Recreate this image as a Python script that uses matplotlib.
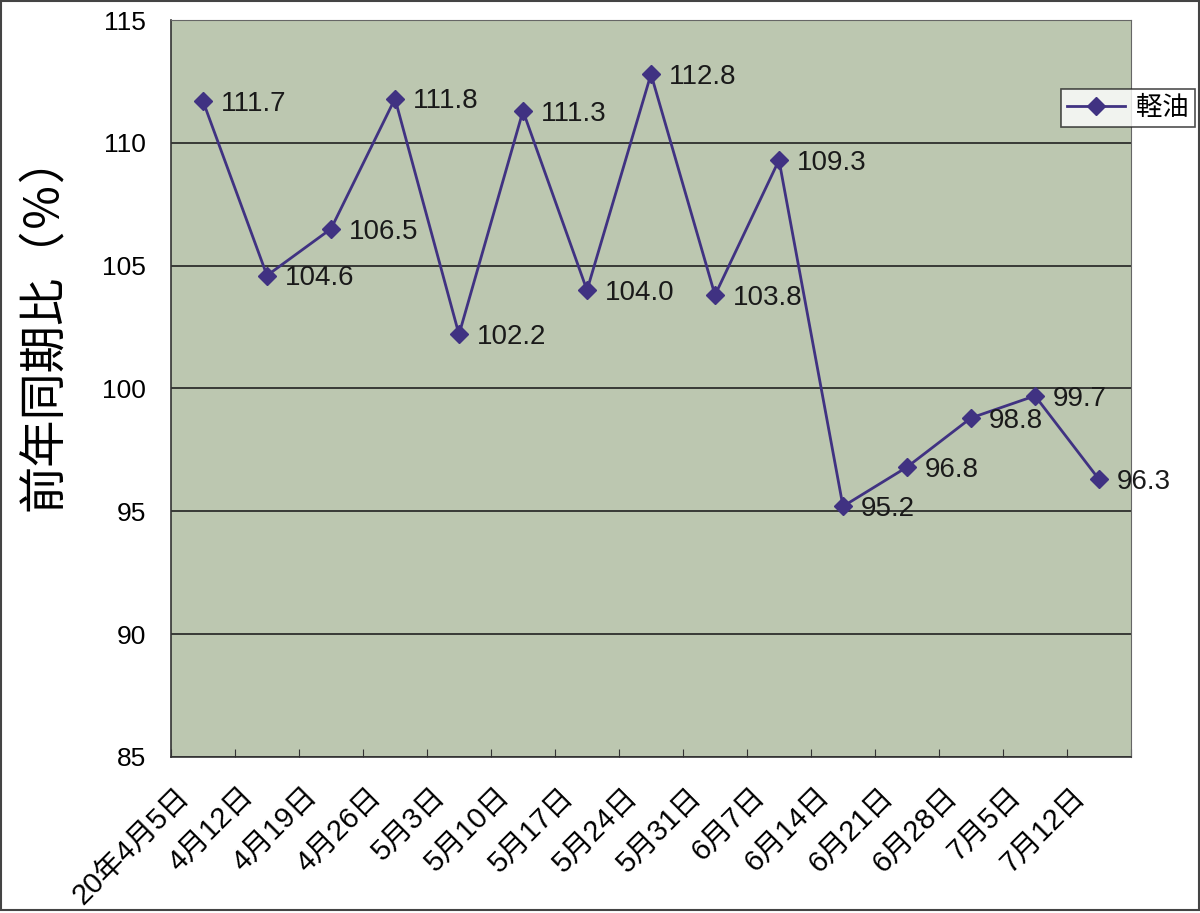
import matplotlib
matplotlib.use('Agg')
import matplotlib.pyplot as plt
import matplotlib.transforms as mtransforms
import numpy as np

plt.rcParams['font.family'] = ['Liberation Sans', 'Noto Sans CJK JP']

dates = ['20年4月5日', '4月12日', '4月19日', '4月26日', '5月3日', '5月10日', '5月17日',
         '5月24日', '5月31日', '6月7日', '6月14日', '6月21日', '6月28日', '7月5日', '7月12日']
values = [111.7, 104.6, 106.5, 111.8, 102.2, 111.3, 104.0, 112.8, 103.8, 109.3,
          95.2, 96.8, 98.8, 99.7, 96.3]
series_name = '軽油'

line_colour = '#403282'
bg_colour = '#bcc7b0'

fig = plt.figure(figsize=(12, 9.13), dpi=100)
ax = fig.add_axes([0.1425, 0.171, 0.8, 0.807])
ax.set_facecolor(bg_colour)

x = np.arange(len(values))
ax.plot(x, values, c=line_colour, linewidth=2, marker='D', markersize=9,
        markerfacecolor=line_colour, markeredgecolor=line_colour, label=series_name)

for xi, v in zip(x, values):
    ax.annotate(f'{v:.1f}', (xi, v), xytext=(13, -2), textcoords='offset points',
                va='center', ha='left', fontsize=20, color='#1a1a1a')

ax.set_xlim(-0.5, len(values) - 0.5)
ax.set_ylim(85, 115)
ax.set_yticks(np.arange(85, 116, 5))
ax.yaxis.grid(True, color='#222222', linewidth=1.2)
ax.set_axisbelow(True)
ax.tick_params(axis='y', length=0, labelsize=19, pad=18)

ax.set_xticks(np.arange(-0.5, len(values)), minor=False)
ax.set_xticklabels([])
ax.set_xticks(x, minor=True)
ax.set_xticklabels(dates, minor=True, rotation=45, ha='right', rotation_mode='anchor',
                   fontsize=21)
ax.tick_params(axis='x', which='major', direction='in', length=6, color='#333333')
ax.tick_params(axis='x', which='minor', length=0, pad=18)
shift = mtransforms.ScaledTranslation(-28 / 100, 0, fig.dpi_scale_trans)
for lbl in ax.get_xticklabels(minor=True):
    lbl.set_transform(lbl.get_transform() + shift)

for side in ['left', 'bottom']:
    ax.spines[side].set_color('#333333')
    ax.spines[side].set_linewidth(1.2)
for side in ['top', 'right']:
    ax.spines[side].set_color('#666666')

ax.set_ylabel('前年同期比（％）', fontsize=34)
ax.yaxis.set_label_coords(-0.108, 0.59)

leg = ax.legend(loc='upper right', bbox_to_anchor=(0.996, 0.902),
                bbox_transform=fig.transFigure, fontsize=19, frameon=True,
                fancybox=False, edgecolor='#222222', handlelength=2.2,
                borderpad=0.25, handletextpad=0.4, borderaxespad=0)
leg.get_frame().set_linewidth(1.2)

fig.patches.append(plt.Rectangle((0.0005, 0.003), 0.999, 0.996, transform=fig.transFigure,
                                 fill=False, edgecolor='#444444', linewidth=1.5))

fig.savefig('out.png', dpi=100)
